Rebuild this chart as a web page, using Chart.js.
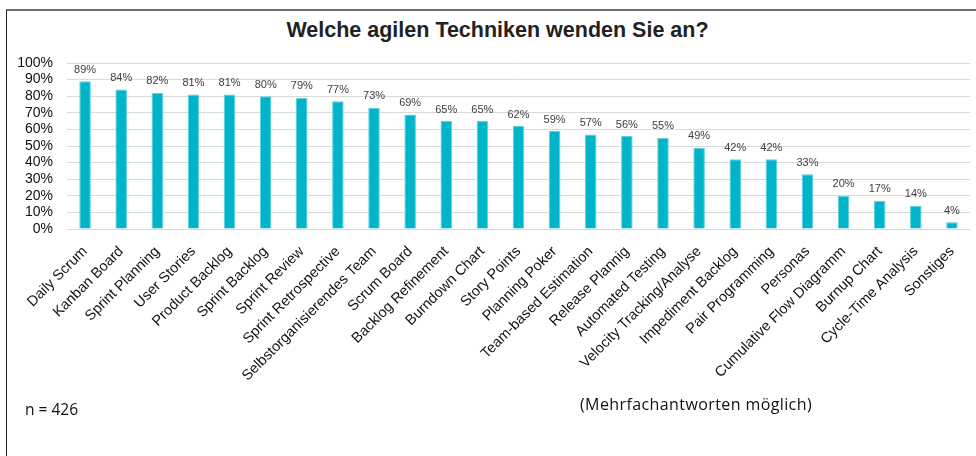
<!DOCTYPE html>
<html>
<head>
<meta charset="utf-8">
<script src="https://cdn.jsdelivr.net/npm/chart.js@4/dist/chart.umd.min.js"></script>
<style>
  html, body { margin: 0; padding: 0; background: #fff; }
  body { width: 976px; height: 456px; position: relative; overflow: hidden; }
  #frame { position: absolute; left: 6px; top: 9px; width: 1000px; height: 500px;
           border-top: 2px solid #6e6e6e; border-left: 1px solid #222; }
  #wrap { position: absolute; left: 0; top: 0; width: 976px; height: 456px; }
  #title { position: absolute; left: 0; top: 18px; width: 995px; text-align: center;
           font: bold 21.5px "Liberation Sans", Arial, sans-serif; color: #222; line-height: 1.2; }
  .note { position: absolute; font-family: "Open Sans", sans-serif; color: #111; line-height: 1; }
</style>
</head>
<body>
<div id="frame"></div>
<div id="title">Welche agilen Techniken wenden Sie an?</div>
<div id="wrap"><canvas id="chart"></canvas></div>
<div class="note" style="left:25px; top:402px; font-size:15.5px;">n = 426</div>
<div class="note" style="left:580px; top:396px; font-size:16px; letter-spacing:0.4px;">(Mehrfachantworten möglich)</div>
<script>
const categories = ['Daily Scrum', 'Kanban Board', 'Sprint Planning', 'User Stories', 'Product Backlog',
  'Sprint Backlog', 'Sprint Review', 'Sprint Retrospective', 'Selbstorganisierendes Team', 'Scrum Board',
  'Backlog Refinement', 'Burndown Chart', 'Story Points', 'Planning Poker', 'Team-based Estimation',
  'Release Plannig', 'Automated Testing', 'Velocity Tracking/Analyse', 'Impediment Backlog',
  'Pair Programming', 'Personas', 'Cumulative Flow Diagramm', 'Burnup Chart', 'Cycle-Time Analysis', 'Sonstiges'];
const values = [89, 84, 82, 81, 81, 80, 79, 77, 73, 69, 65, 65, 62, 59, 57, 56, 55, 49, 42, 42, 33, 20, 17, 14, 4];
const yTicks = [0, 10, 20, 30, 40, 50, 60, 70, 80, 90, 100];

// draws the percentage above each bar
const barLabels = {
  id: 'barLabels',
  afterDatasetsDraw(chart) {
    const ctx = chart.ctx;
    const meta = chart.getDatasetMeta(0);
    ctx.save();
    ctx.font = '11px "Liberation Sans", Arial, sans-serif';
    ctx.fillStyle = '#404040';
    ctx.textAlign = 'center';
    ctx.textBaseline = 'bottom';
    meta.data.forEach((bar, i) => {
      ctx.fillText(values[i] + '%', bar.x, bar.y - 6);
    });
    ctx.restore();
  }
};

const ctx = document.getElementById('chart').getContext('2d');
new Chart(ctx, {
  type: 'bar',
  data: {
    labels: categories,
    datasets: [{
      data: values,
      backgroundColor: '#00b4c9',
      borderColor: '#5fd0dc',
      borderWidth: {top: 1, left: 1, right: 1, bottom: 0},
      barPercentage: 0.32,
      categoryPercentage: 1
    }]
  },
  options: {
    responsive: true,
    maintainAspectRatio: false,
    animation: false,
    layout: { padding: { top: 63, left: 10, right: 6, bottom: 0 } },
    plugins: {
      legend: { display: false },
      tooltip: { enabled: false }
    },
    scales: {
      x: {
        grid: { display: false },
        border: { display: false },
        ticks: {
          maxRotation: 45, minRotation: 45, autoSkip: false,
          color: '#111', padding: 6,
          font: { family: '"Liberation Sans", Arial, sans-serif', size: 14.5 }
        },
        afterFit(scale) { scale.height = 227; }
      },
      y: {
        min: 0, max: 100,
        afterBuildTicks(scale) { scale.ticks = yTicks.map(v => ({ value: v })); },
        grid: { color: '#d9d9d9', lineWidth: 1, drawTicks: false },
        border: { display: false },
        ticks: {
          autoSkip: false,
          color: '#111', padding: 14,
          font: { family: '"Liberation Sans", Arial, sans-serif', size: 14 },
          callback: v => v + '%'
        },
        afterFit(scale) { scale.width = 57; }
      }
    }
  },
  plugins: [barLabels]
});
</script>
</body>
</html>
